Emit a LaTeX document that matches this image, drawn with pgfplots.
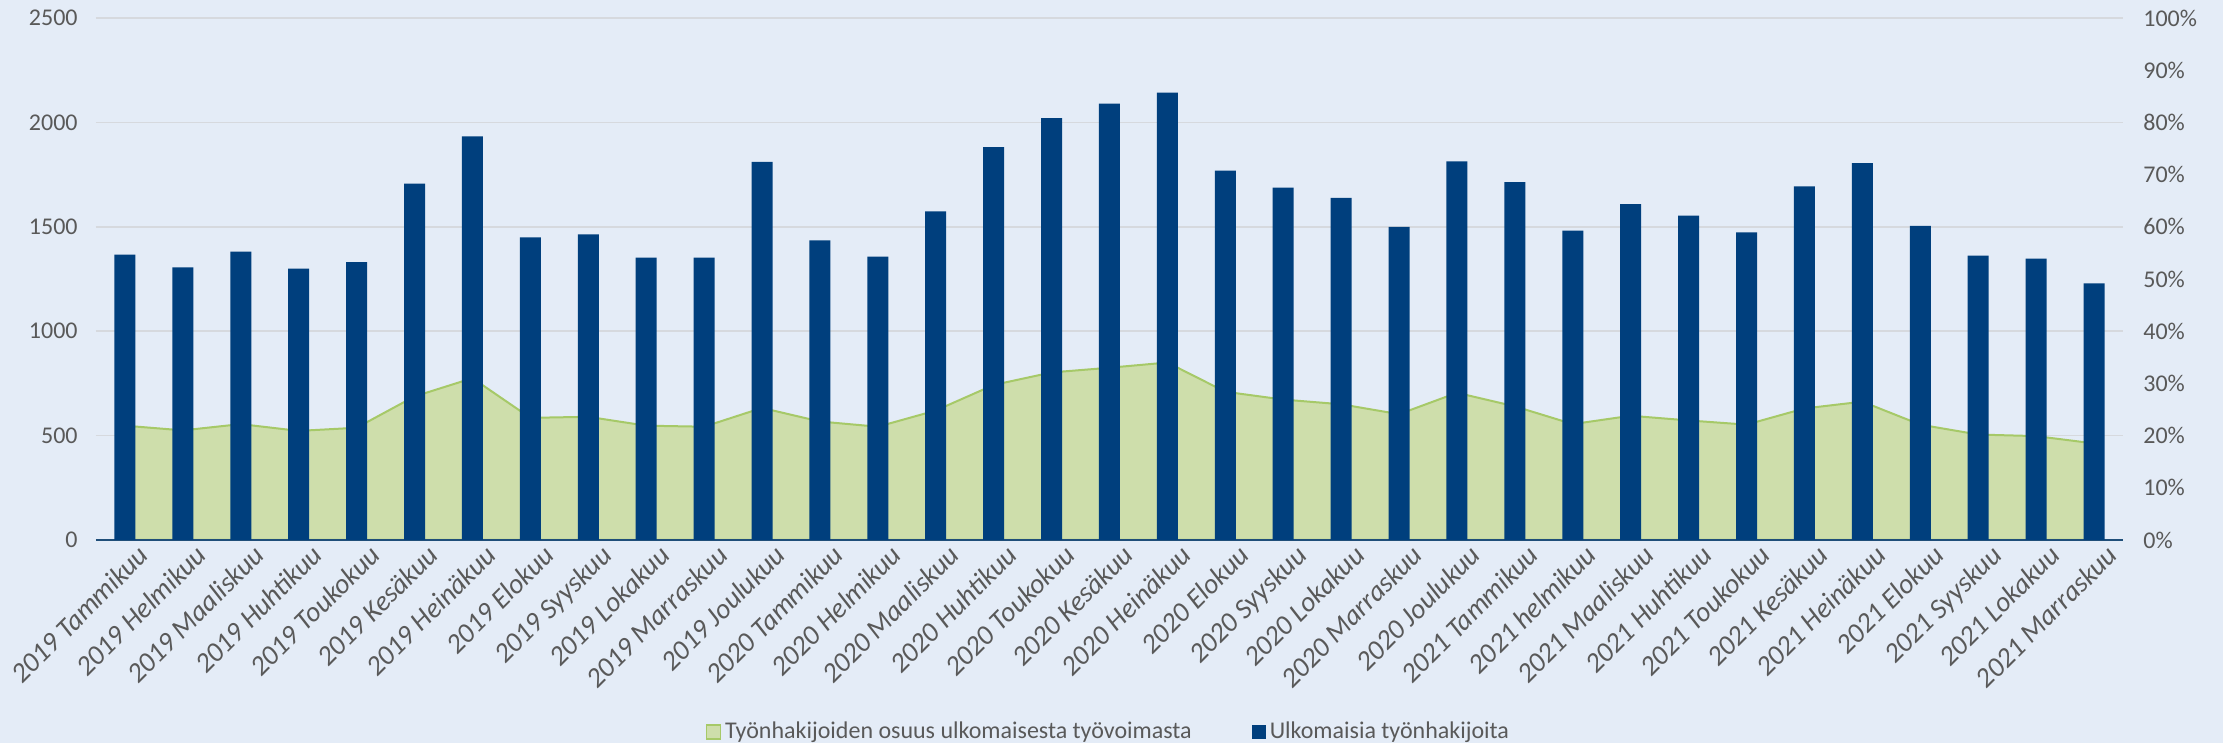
\documentclass[border=0pt]{standalone}
\usepackage{pgfplots}
\pgfplotsset{compat=1.18}
\usepackage{pgfplotstable}
\usepackage{fontspec}
\setmainfont{Carlito}
\definecolor{bg}{RGB}{228,236,247}
\definecolor{barblue}{RGB}{0,63,125}
\definecolor{areafill}{RGB}{206,222,171}
\definecolor{arealine}{RGB}{166,201,104}
\definecolor{gridc}{RGB}{214,217,222}
\definecolor{txt}{RGB}{89,89,89}
\definecolor{axisblue}{RGB}{31,78,121}

\pgfplotstableread{
x n p
0 1367 21.9
1 1306 21.0
2 1381 22.2
3 1300 20.9
4 1331 21.5
5 1707 27.5
6 1933 31.0
7 1449 23.4
8 1464 23.6
9 1352 21.9
10 1352 21.7
11 1811 25.3
12 1435 22.7
13 1357 21.7
14 1574 24.8
15 1881 29.7
16 2020 32.1
17 2090 33.0
18 2143 34.0
19 1769 28.4
20 1688 26.9
21 1639 26.0
22 1500 24.1
23 1813 28.2
24 1714 25.6
25 1482 22.2
26 1608 23.8
27 1553 22.9
28 1473 22.1
29 1693 25.2
30 1805 26.5
31 1505 22.1
32 1362 20.2
33 1348 19.9
34 1229 18.5
}\datatable

\begin{document}
\fontsize{12}{14}\selectfont
\begin{tikzpicture}
\fill[bg] (-48pt,-101.5pt) rectangle (1063.5pt,270pt);
\pgfplotsset{common/.style={
  at={(0,0)}, anchor=south west, scale only axis,
  width=1013.5pt, height=261pt,
  xmin=-0.5, xmax=34.5,
  major tick length=0pt,
  tick label style={font=\fontsize{12}{14}\selectfont, text=txt},
  /pgf/number format/assume math mode=true,
  /pgf/number format/1000 sep={},
}}
% percent axis with grid and area
\begin{axis}[common,
  ymin=0, ymax=100,
  xtick=\empty,
  ytick={0,10,...,100},
  yticklabel pos=right,
  yticklabel={\pgfmathprintnumber{\tick}\%},
  y tick label style={xshift=6pt},
  axis line style={draw=none},
  extra y ticks={20,40,60,80,100},
  extra y tick labels={},
  extra y tick style={grid=major},
  major grid style={gridc, line width=0.8pt},
]
\addplot[fill=areafill, draw=arealine, line width=1pt] table[x=x,y=p]{\datatable} \closedcycle;
\end{axis}
% count axis with bars
\begin{axis}[common,
  ymin=0, ymax=2500,
  ytick={0,500,...,2500},
  y tick label style={xshift=-5pt},
  axis x line*=bottom,
  axis y line*=left,
  y axis line style={draw=none},
  x axis line style={axisblue, line width=1.2pt, -},
  xtick={0,...,34},
  xticklabels={2019 Tammikuu,2019 Helmikuu,2019 Maaliskuu,2019 Huhtikuu,2019 Toukokuu,2019 Kesäkuu,2019 Heinäkuu,2019 Elokuu,2019 Syyskuu,2019 Lokakuu,2019 Marraskuu,2019 Joulukuu,2020 Tammikuu,2020 Helmikuu,2020 Maaliskuu,2020 Huhtikuu,2020 Toukokuu,2020 Kesäkuu,2020 Heinäkuu,2020 Elokuu,2020 Syyskuu,2020 Lokakuu,2020 Marraskuu,2020 Joulukuu,2021 Tammikuu,2021 helmikuu,2021 Maaliskuu,2021 Huhtikuu,2021 Toukokuu,2021 Kesäkuu,2021 Heinäkuu,2021 Elokuu,2021 Syyskuu,2021 Lokakuu,2021 Marraskuu},
  x tick label style={rotate=45, anchor=north east, font=\fontsize{14}{16}\selectfont\itshape, yshift=-4pt, xshift=4pt, inner sep=1pt},
  legend columns=2,
  legend style={at={(0.5,-0.368)}, anchor=center, draw=none, fill=none,
    font=\fontsize{12}{14}\selectfont, text=txt,
    /tikz/every even column/.append style={column sep=28pt}},
]
\addlegendimage{legend image code/.code={\fill[areafill, draw=arealine, line width=0.6pt] (0pt,-3.5pt) rectangle (7pt,3.5pt);}}
\addlegendentry{Työnhakijoiden osuus ulkomaisesta työvoimasta}
\addplot[ybar, bar width=10.5pt, fill=barblue, draw=none,
  legend image code/.code={\fill[barblue] (0pt,-3.5pt) rectangle (7pt,3.5pt);}]
  table[x=x,y=n]{\datatable};
\addlegendentry{Ulkomaisia työnhakijoita}
\end{axis}
\pgfresetboundingbox
\path[use as bounding box] (-48pt,-101.5pt) rectangle (1063.5pt,270pt);
\end{tikzpicture}
\end{document}
